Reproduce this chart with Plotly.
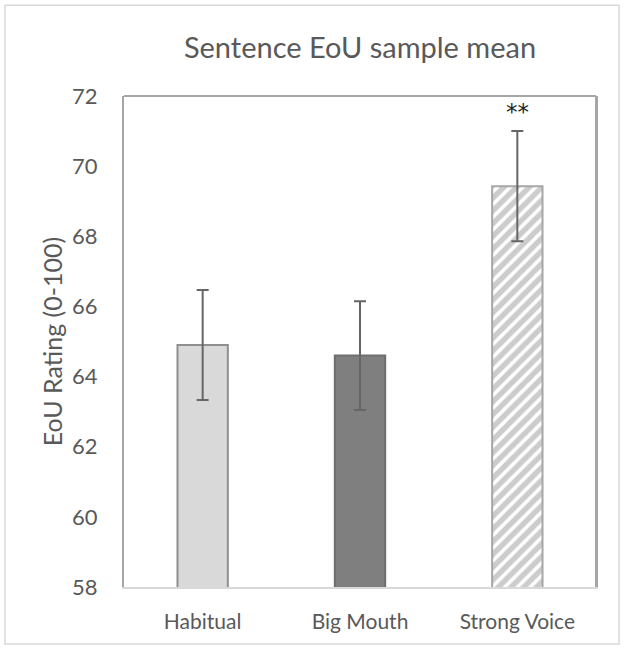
import plotly.graph_objects as go

categories = ["Habitual", "Big Mouth", "Strong Voice"]
means = [64.9, 64.6, 69.43]
errors = [1.57, 1.55, 1.57]
sig_labels = ["", "", "**"]
y_ticks = [58, 60, 62, 64, 66, 68, 70, 72]

fill_colors = ["#d9d9d9", "#7f7f7f", "#ffffff"]
line_colors = ["#8f8f8f", "#6e6e6e", "#a6a6a6"]
patterns = ["", "", "/"]

FONT = "Lato, Open Sans, sans-serif"
TXT = "#595959"

fig = go.Figure()
for c, m, e, fc, lc, p in zip(categories, means, errors, fill_colors, line_colors, patterns):
    marker = dict(color=fc, line=dict(color=lc, width=2))
    if p:
        marker["pattern"] = dict(shape=p, fgcolor="#9a9a9a", bgcolor="#ffffff",
                                 size=9, solidity=0.6)
    fig.add_trace(go.Bar(
        x=[c], y=[m], width=0.32, marker=marker,
        error_y=dict(type="data", array=[e], visible=True,
                     color="#666666", thickness=2, width=6),
        showlegend=False,
    ))

for c, m, e, s in zip(categories, means, errors, sig_labels):
    if s:
        fig.add_annotation(x=c, y=m + e, text=s, showarrow=False,
                           yanchor="bottom", yshift=4,
                           font=dict(family="DejaVu Sans, sans-serif", size=23, color="#222222"))

fig.update_layout(
    width=624, height=649,
    margin=dict(l=124, r=28, t=96, b=62),
    paper_bgcolor="white", plot_bgcolor="white",
    font=dict(family=FONT, color=TXT),
    barmode="overlay",
    title=dict(text="Sentence EoU sample mean", x=0.5, xanchor="center",
               xref="paper", y=0.927, yanchor="middle",
               font=dict(family=FONT, size=29, color=TXT)),
    shapes=[dict(type="rect", xref="paper", yref="paper",
                 x0=-0.252, x1=1.0487, y0=-0.116, y1=1.185,
                 line=dict(color="#d9d9d9", width=1.5), fillcolor="rgba(0,0,0,0)",
                 layer="below")],
)
fig.update_xaxes(showline=True, linecolor="#d9d9d9", linewidth=2,
                 showgrid=False, ticks="", ticklabelstandoff=15,
                 tickfont=dict(family=FONT, size=21, color=TXT))
fig.update_yaxes(range=[58, 72], tickvals=y_ticks, showgrid=False,
                 showline=True, linecolor="#a6a6a6", linewidth=2, mirror=True,
                 ticks="", ticklabelstandoff=20,
                 tickfont=dict(family=FONT, size=22, color=TXT),
                 title=dict(text="EoU Rating (0-100)", standoff=2,
                            font=dict(family=FONT, size=25, color=TXT)))
fig.add_shape(type="line", xref="paper", yref="paper", x0=1, x1=1, y0=0, y1=1,
              line=dict(color="#a6a6a6", width=2))
fig.add_shape(type="line", xref="paper", yref="paper", x0=0, x1=1, y0=1, y1=1,
              line=dict(color="#a6a6a6", width=2))

fig.write_html("out.html")
